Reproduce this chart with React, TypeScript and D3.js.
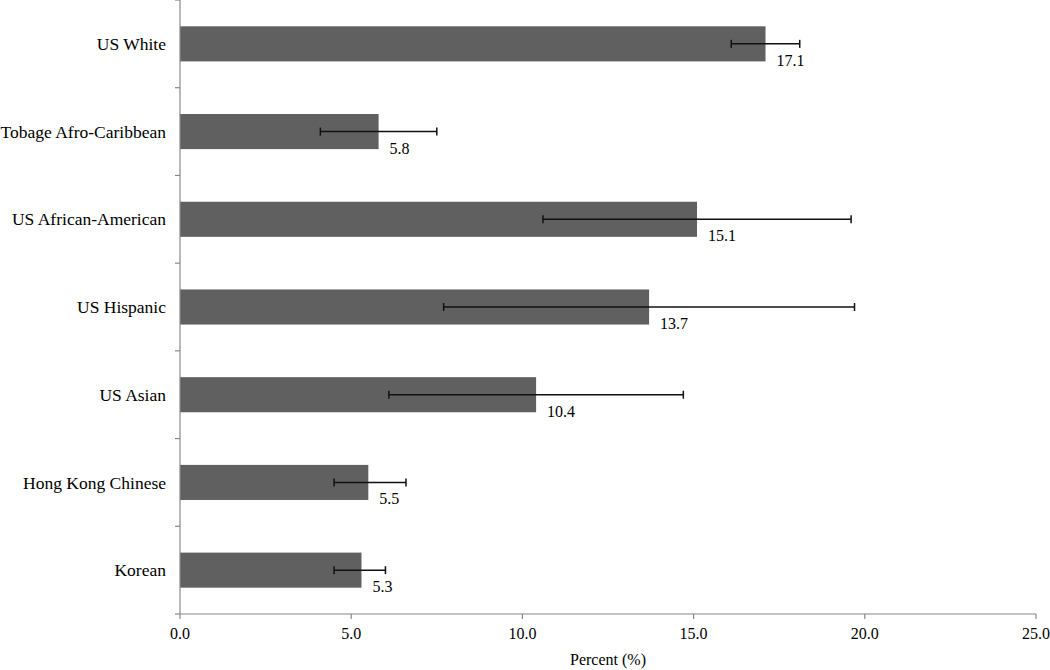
import React from "react";
import * as d3 from "d3";

const categories = ["US White", "Tobage Afro-Caribbean", "US African-American", "US Hispanic", "US Asian", "Hong Kong Chinese", "Korean"];
const values = [17.1, 5.8, 15.1, 13.7, 10.4, 5.5, 5.3];
const errLow = [16.1, 4.1, 10.6, 7.7, 6.1, 4.5, 4.5];
const errHigh = [18.1, 7.5, 19.6, 19.7, 14.7, 6.6, 6.0];
const xTicks = [0, 5, 10, 15, 20, 25];

const W = 1050, H = 670;
const left = 180, right = 1036, top = 0, bottom = 614;
const fam = "Liberation Serif, Times New Roman, DejaVu Serif, serif";
const textStyle: React.CSSProperties = { fontFamily: fam, fontSize: "16px" };
const catStyle: React.CSSProperties = { fontFamily: fam, fontSize: "17.5px" };

export default function App() {
  const x = d3.scaleLinear().domain([0, 25]).range([left, right]);
  const y = d3.scaleBand().domain(categories).range([top, bottom]).paddingInner(0.6).paddingOuter(0.3);
  const band = d3.scaleBand().domain(categories).range([top, bottom]);
  const axisColor = "#888888";
  return (
    <svg width={W} height={H} style={{ position: "absolute", left: 0, top: 0, background: "#fff" }}>
      {categories.map((c, i) => {
        const by = y(c)!;
        const bh = y.bandwidth();
        const cy = by + bh / 2;
        return (
          <g key={c}>
            <rect x={x(0)} y={by} width={x(values[i]) - x(0)} height={bh} fill="#606060" />
            <line x1={x(errLow[i])} x2={x(errHigh[i])} y1={cy} y2={cy} stroke="#111" strokeWidth={1.5} />
            <line x1={x(errLow[i])} x2={x(errLow[i])} y1={cy - 4} y2={cy + 4} stroke="#111" strokeWidth={1.5} />
            <line x1={x(errHigh[i])} x2={x(errHigh[i])} y1={cy - 4} y2={cy + 4} stroke="#111" strokeWidth={1.5} />
            <text x={x(values[i]) + 11} y={cy + 22} style={textStyle} fill="#000">{values[i].toFixed(1)}</text>
            <text x={166} y={cy} dy="0.35em" textAnchor="end" style={catStyle} fill="#000">{c}</text>
          </g>
        );
      })}
      <line x1={left} x2={left} y1={top} y2={bottom} stroke={axisColor} strokeWidth={1.2} />
      {categories.map((c) => (
        <line key={"t" + c} x1={left - 5} x2={left} y1={band(c)!} y2={band(c)!} stroke={axisColor} strokeWidth={1.2} />
      ))}
      <line x1={left - 5} x2={left} y1={bottom} y2={bottom} stroke={axisColor} strokeWidth={1.2} />
      <line x1={left} x2={right} y1={bottom} y2={bottom} stroke={axisColor} strokeWidth={1.2} />
      {xTicks.map((t) => (
        <g key={"x" + t}>
          <line x1={x(t)} x2={x(t)} y1={bottom} y2={bottom + 5} stroke={axisColor} strokeWidth={1.2} />
          <text x={x(t)} y={bottom + 25} textAnchor="middle" style={textStyle} fill="#000">{t.toFixed(1)}</text>
        </g>
      ))}
      <text x={(left + right) / 2} y={bottom + 51} textAnchor="middle" style={textStyle} fill="#000">Percent (%)</text>
    </svg>
  );
}
